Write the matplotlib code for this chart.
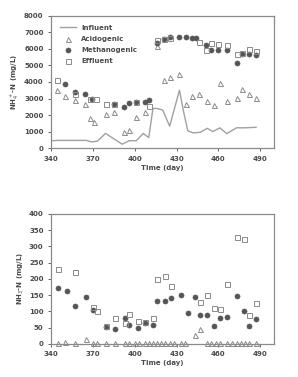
import matplotlib
matplotlib.use("Agg")
import matplotlib.pyplot as plt

# ---- top panel: NH4+-N ----
inf_days = [340, 345, 350, 355, 360, 365, 369, 373, 379, 385, 391, 396, 401, 406, 410,
            413, 416, 420, 425, 432, 435, 438, 442, 447, 452, 456, 461, 466, 473, 479, 487]
inf_nh4 = [450, 470, 470, 470, 470, 470, 380, 420, 890, 560, 240, 450, 450, 890, 640,
           2400, 2400, 2300, 1330, 3500, 2200, 1050, 920, 960, 1200, 1000, 1230, 880, 1230, 1230, 1260]

acid_days = [344, 350, 357, 364, 368, 371, 379, 385, 392, 396, 401, 407, 416, 421, 425, 432,
             437, 441, 446, 452, 457, 461, 466, 473, 477, 482, 487]
acid_nh4 = [3500, 3170, 2900, 2650, 1850, 1600, 2050, 2200, 1000, 1100, 1900, 2200, 6150, 4120,
            4280, 4480, 2650, 3150, 3300, 2870, 2600, 3950, 2870, 3060, 3550, 3300, 3060]

meth_days = [350, 357, 364, 369, 385, 392, 396, 401, 407, 410, 416, 421, 425, 432, 437, 441,
             444, 451, 455, 460, 466, 473, 477, 482, 487]
meth_nh4 = [3850, 3400, 3250, 2950, 2650, 2500, 2750, 2800, 2800, 2900, 6350, 6600, 6700, 6700,
            6700, 6670, 6630, 6240, 5950, 5950, 5950, 5120, 5700, 5700, 5650]

eff_days = [344, 357, 368, 372, 379, 385, 401, 410, 416, 421, 425, 446, 451, 455, 460, 466,
            473, 477, 482, 487]
eff_nh4 = [4120, 3300, 3000, 2950, 2700, 2650, 2800, 2550, 6550, 6600, 6650, 6440, 5940, 6360,
           6300, 6250, 5700, 5750, 6000, 5900]

# ---- bottom panel: NH3-N ----
acid3_days = [345, 350, 357, 365, 370, 373, 379, 386, 393, 396, 400, 403, 407, 410, 413, 416,
              419, 422, 425, 428, 433, 436, 443, 447, 452, 455, 458, 461, 466, 470, 473, 476,
              479, 482, 487]
acid_nh3 = [2, 7, 2, 15, 3, 2, 4, 2, 2, 2, 2, 2, 2, 2, 2, 2,
            2, 2, 2, 2, 2, 4, 28, 45, 2, 2, 2, 2, 2, 2, 2, 2,
            2, 4, 2]

meth3_days = [345, 351, 357, 365, 370, 379, 386, 393, 396, 402, 407, 413, 416, 422, 426, 433,
              438, 443, 447, 452, 457, 461, 466, 473, 478, 482, 487]
meth_nh3 = [173, 163, 115, 143, 105, 53, 45, 80, 58, 48, 64, 58, 133, 132, 142, 151,
            96, 144, 89, 89, 55, 79, 82, 148, 100, 55, 76]

eff3_days = [345, 357, 370, 373, 379, 386, 393, 396, 402, 407, 413, 416, 422, 426, 447, 452,
             457, 461, 466, 473, 478, 482, 487]
eff_nh3 = [231, 220, 112, 100, 55, 79, 65, 92, 71, 66, 79, 199, 209, 178, 128, 151,
           110, 107, 185, 330, 322, 89, 125]

grey_txt = "#4a4a4a"
fs = 5

fig = plt.figure(figsize=(2.98, 3.77), dpi=100)
ax1 = fig.add_axes([0.172, 0.607, 0.748, 0.351])
ax2 = fig.add_axes([0.172, 0.088, 0.748, 0.345])


def style(ax):
    for s in ax.spines.values():
        s.set_color("#8a8a8a")
        s.set_linewidth(0.9)
    ax.tick_params(labelsize=fs, colors=grey_txt, length=2, width=0.6)
    for lab in ax.get_xticklabels() + ax.get_yticklabels():
        lab.set_fontweight("bold")
    ax.set_xlim(340, 500)
    ax.set_xticks([340, 370, 400, 430, 460, 490])
    ax.set_xlabel("Time (day)", fontsize=fs, color=grey_txt, labelpad=2, fontweight="bold")


mk = 3.6
ax1.plot(inf_days, inf_nh4, color="#a0a0a0", lw=1.0, label="Influent")
ax1.plot(acid_days, acid_nh4, "^", ms=mk, mfc="none", mec="#8a8a8a", mew=0.7, label="Acidogenic")
ax1.plot(meth_days, meth_nh4, "o", ms=mk, mfc="#555555", mec="#555555", mew=0.5, label="Methanogenic")
ax1.plot(eff_days, eff_nh4, "s", ms=mk, mfc="none", mec="#8a8a8a", mew=0.7, label="Effluent")
ax1.set_ylim(0, 8000)
ax1.set_yticks(range(0, 8001, 1000))
style(ax1)
ax1.set_ylabel("NH$_4^+$-N (mg/L)", fontsize=fs, color=grey_txt, labelpad=2, fontweight="bold")
ax1.legend(loc="upper left", prop={"size": fs, "weight": "bold"}, frameon=False, handlelength=2.2,
           labelcolor=grey_txt, borderaxespad=0.9, labelspacing=0.75)

ax2.plot(acid3_days, acid_nh3, "^", ms=mk, mfc="none", mec="#8a8a8a", mew=0.7, clip_on=False)
ax2.plot(meth3_days, meth_nh3, "o", ms=mk, mfc="#555555", mec="#555555", mew=0.5)
ax2.plot(eff3_days, eff_nh3, "s", ms=mk, mfc="none", mec="#8a8a8a", mew=0.7)
ax2.set_ylim(0, 400)
ax2.set_yticks(range(0, 401, 50))
style(ax2)
ax2.set_ylabel("NH$_3$-N (mg/L)", fontsize=fs, color=grey_txt, labelpad=2, fontweight="bold")

fig.savefig("out.png", dpi=100)
